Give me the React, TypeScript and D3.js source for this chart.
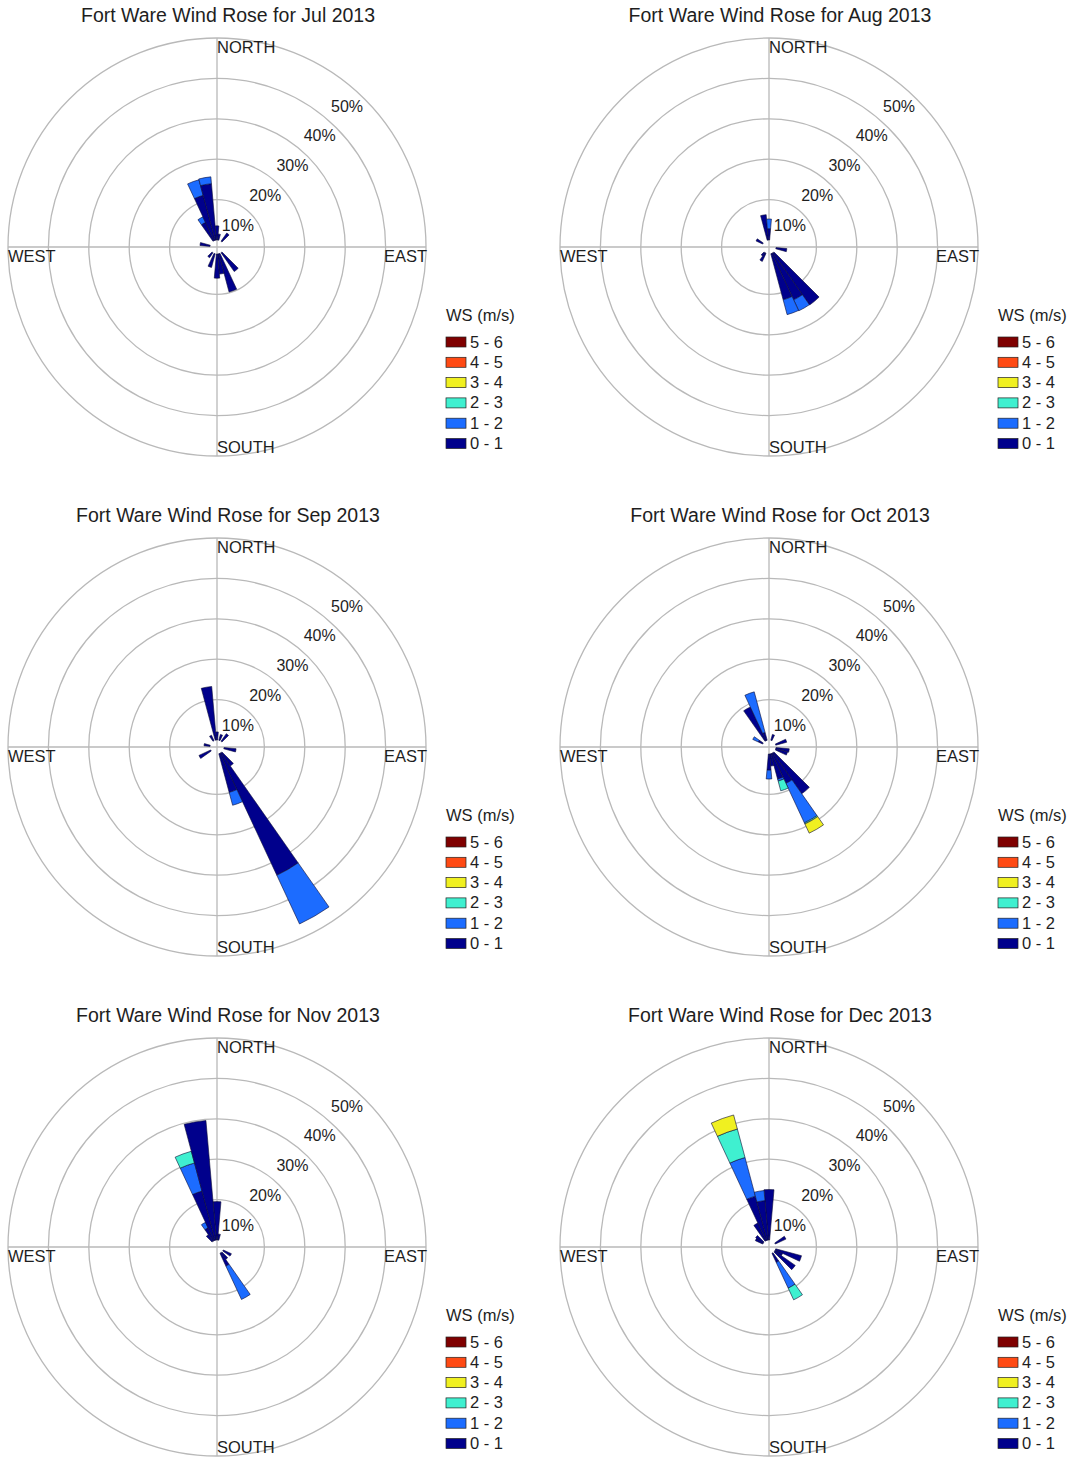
import React from "react";
import * as d3 from "d3";

// Each sector: direction (degrees clockwise from north), then % frequency for each speed bin (0-1, 1-2, 2-3, 3-4 ...)
type Sector = number[];

const months = ["Jul 2013", "Aug 2013", "Sep 2013", "Oct 2013", "Nov 2013", "Dec 2013"];
const speedLabels = ["0 - 1", "1 - 2", "2 - 3", "3 - 4", "4 - 5", "5 - 6"];
const speedColors = ["#00008c", "#1c6cff", "#3ff0d0", "#f0f020", "#ff4a14", "#7f0000"];
const ringTicks = [10, 20, 30, 40, 50];
const compass = ["NORTH", "EAST", "SOUTH", "WEST"];

const jul: Sector[] = [
  [330, 5, 1.5],
  [340, 11.5, 4],
  [350, 14, 1.7],
  [0, 3.5],
  [10, 1.5],
  [40, 2.5],
  [140, 5.7],
  [160, 9.8],
  [170, 5],
  [180, 6],
  [200, 3.5],
  [220, 1.5],
  [280, 2.5],
];

const aug: Sector[] = [
  [350, 6.3],
  [0, 2.8, 2.4],
  [100, 2.7],
  [140, 15.8],
  [150, 12.7, 3],
  [160, 11.8, 3.8],
  [210, 2.2],
  [220, 1],
  [300, 1.8],
];

const sep: Sector[] = [
  [350, 13.3],
  [0, 2],
  [20, 1.5],
  [40, 2.3],
  [100, 3],
  [140, 4],
  [150, 33.3, 13.3],
  [160, 9.9, 3.3],
  [240, 3.2],
  [280, 1.5],
  [330, 1.5],
];

const oct: Sector[] = [
  [20, 1.5],
  [70, 2.8],
  [100, 3.3],
  [110, 3],
  [140, 12.4],
  [150, 8.2, 10.8, 0.3, 2.5],
  [160, 6.5, 0.5, 2.5],
  [170, 3],
  [180, 4, 2.2],
  [300, 1.2, 1.5],
  [330, 9.2],
  [340, 2, 10.4],
];

const nov: Sector[] = [
  [0, 9.5],
  [10, 1.5],
  [120, 2.2],
  [140, 2],
  [150, 3.5, 9.1],
  [320, 2],
  [330, 3.5, 1.5],
  [340, 12.6, 7.2, 3],
  [350, 29.7],
];

const dec: Sector[] = [
  [0, 12.5],
  [60, 2.9],
  [110, 6.6],
  [120, 2],
  [130, 6.2],
  [150, 2.5, 7, 3.2],
  [300, 2],
  [310, 2.3],
  [330, 4.8],
  [340, 11.3, 9.9, 7.3, 3.6],
  [350, 9.8, 2.5],
];

const roses = [jul, aug, sep, oct, nov, dec];

const FONT = "'Liberation Sans', Arial, Helvetica, sans-serif";
const PANEL_W = 552;
const PANEL_H = 500;
const CX = 217;
const CY = 247;
const SECTOR = 10;

const rScale = d3.scaleLinear().domain([0, 50]).range([7, 209]);
const arcGen = d3.arc<any>();
const rad = (deg: number) => (deg * Math.PI) / 180;

function Rose({ data, month, col, row }: { data: Sector[]; month: string; col: number; row: number }) {
  const ox = col * PANEL_W;
  const oy = row * PANEL_H;
  const cx = ox + CX;
  const cy = oy + CY;
  const rMax = rScale(50);

  const patches: { d: string; color: string; key: string }[] = [];
  data.forEach(([dir, ...bins]) => {
    let cum = 0;
    bins.forEach((v, i) => {
      if (v <= 0) {
        return;
      }
      const d = arcGen({
        innerRadius: rScale(cum),
        outerRadius: rScale(cum + v),
        startAngle: rad(dir - SECTOR / 2),
        endAngle: rad(dir + SECTOR / 2),
      }) as string;
      cum += v;
      patches.push({ d, color: speedColors[i], key: `${dir}-${i}` });
    });
  });

  const labelAngle = rad(42.5);
  const textFill = "#1e1e1e";

  return (
    <g>
      <text x={ox + 228} y={oy + 22} textAnchor="middle" fontSize={19.5} fill={textFill} fontFamily={FONT}>
        Fort Ware Wind Rose for {month}
      </text>

      {/* grid */}
      <g stroke="#b9b9b9" strokeWidth={1.3} fill="none">
        {ringTicks.map((t) => (
          <circle key={t} cx={cx} cy={cy} r={rScale(t)} />
        ))}
        <line x1={cx - rMax} y1={cy} x2={cx + rMax} y2={cy} />
        <line x1={cx} y1={cy - rMax} x2={cx} y2={cy + rMax} />
      </g>

      {/* direction labels */}
      <g fontFamily={FONT} fontSize={16.5} fill={textFill}>
        <text x={cx} y={cy - 194}>{compass[0]}</text>
        <text x={cx + 210} y={cy + 15} textAnchor="end">{compass[1]}</text>
        <text x={cx} y={cy + 206}>{compass[2]}</text>
        <text x={cx - 209} y={cy + 15}>{compass[3]}</text>
      </g>

      {/* frequency labels */}
      <g fontFamily={FONT} fontSize={16} fill={textFill} textAnchor="middle">
        {ringTicks.map((t) => {
          const r = rScale(t) - 18;
          return (
            <text key={t} x={cx + r * Math.sin(labelAngle) + 1} y={cy - r * Math.cos(labelAngle) + 5.5}>
              {t}%
            </text>
          );
        })}
      </g>

      {/* wind sectors */}
      <g transform={`translate(${cx},${cy})`}>
        {patches.map((p) => (
          <path key={p.key} d={p.d} fill={p.color} stroke="#0b0b35" strokeWidth={0.6} />
        ))}
      </g>

      {/* legend */}
      <g fontFamily={FONT} fill={textFill}>
        <text x={ox + 446} y={oy + 321} fontSize={16.5}>WS (m/s)</text>
        {speedLabels
          .map((lab, i) => ({ lab, color: speedColors[i], i }))
          .reverse()
          .map((s, k) => {
            const yc = oy + 342 + k * 20.3;
            return (
              <g key={s.lab}>
                <rect x={ox + 446} y={yc - 5} width={20} height={10} fill={s.color} stroke="#222" strokeWidth={0.7} />
                <text x={ox + 470} y={yc + 5.5} fontSize={16.5}>{s.lab}</text>
              </g>
            );
          })}
      </g>
    </g>
  );
}

export default function App() {
  return (
    <svg
      width={1072}
      height={1460}
      viewBox="0 0 1072 1460"
      style={{ position: "absolute", left: 0, top: 0, background: "#fff" }}
    >
      <rect width={1072} height={1460} fill="#fff" />
      {roses.map((data, i) => (
        <Rose key={months[i]} data={data} month={months[i]} col={i % 2} row={Math.floor(i / 2)} />
      ))}
    </svg>
  );
}
